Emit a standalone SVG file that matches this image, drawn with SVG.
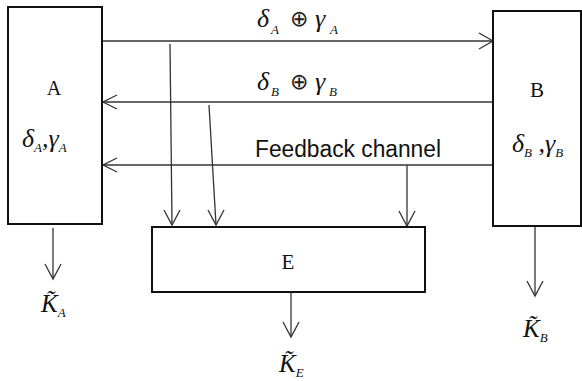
<svg xmlns="http://www.w3.org/2000/svg" width="582" height="381" viewBox="0 0 582 381">
  <style>
    .box { fill: #fff; stroke: #111; stroke-width: 2; }
    .wire { fill: none; stroke: #333; stroke-width: 1.3; }
    .head { fill: none; stroke: #333; stroke-width: 1.3; stroke-linejoin: miter; }
    .m { font-family: "Liberation Serif", "Times New Roman", serif; font-style: italic; fill: #111; }
    .r { font-family: "Liberation Serif", "Times New Roman", serif; fill: #111; }
    .op { font-family: "DejaVu Sans", sans-serif; fill: #222; }
    .s { font-family: "Liberation Sans", Arial, sans-serif; fill: #111; }
  </style>
  <rect width="582" height="381" fill="#fff"/>

  <!-- connectors -->
  <g id="connectors">
    <!-- A -> B -->
    <line class="wire" x1="102" y1="41" x2="493" y2="41"/>
    <polyline class="head" points="479,33 493,41 479,49"/>
    <!-- B -> A -->
    <line class="wire" x1="493" y1="102" x2="103" y2="102"/>
    <polyline class="head" points="117,95 103,102 117,109"/>
    <!-- feedback channel B -> A -->
    <line class="wire" x1="493" y1="165" x2="103" y2="165"/>
    <polyline class="head" points="117,158 103,165 117,172"/>
    <!-- taps into E -->
    <line class="wire" x1="170" y1="44" x2="172" y2="225"/>
    <polyline class="head" points="164,210 172,225 180,210"/>
    <line class="wire" x1="209" y1="105" x2="216" y2="225"/>
    <polyline class="head" points="208,210 216,225 224,210"/>
    <line class="wire" x1="407" y1="165" x2="407" y2="226"/>
    <polyline class="head" points="399,211 407,226 415,211"/>
    <!-- key outputs -->
    <line class="wire" x1="53" y1="228" x2="53" y2="279"/>
    <polyline class="head" points="45,264 53,279 61,264"/>
    <line class="wire" x1="291" y1="293" x2="291" y2="337"/>
    <polyline class="head" points="283,322 291,337 299,322"/>
    <line class="wire" x1="535" y1="227" x2="535" y2="296"/>
    <polyline class="head" points="527,281 535,296 543,281"/>
  </g>

  <!-- channel labels -->
  <g id="label-ab">
    <text class="m" x="257" y="27" font-size="26">δ</text>
    <text class="m" x="271" y="34" font-size="13">A</text>
    <text class="op" x="290" y="26" font-size="22">⊕</text>
    <text class="m" x="315" y="27" font-size="26">γ</text>
    <text class="m" x="330" y="34" font-size="13">A</text>
  </g>
  <g id="label-ba">
    <text class="m" x="257" y="90" font-size="26">δ</text>
    <text class="m" x="271" y="96" font-size="13">B</text>
    <text class="op" x="290" y="89" font-size="22">⊕</text>
    <text class="m" x="315" y="90" font-size="26">γ</text>
    <text class="m" x="329" y="96" font-size="13">B</text>
  </g>
  <text class="s" x="255" y="157" font-size="23" textLength="186" lengthAdjust="spacingAndGlyphs">Feedback channel</text>

  <!-- node A -->
  <g id="node-a">
    <rect class="box" x="8" y="7" width="94" height="217"/>
    <text class="r" x="54" y="95" font-size="20" text-anchor="middle">A</text>
    <text class="m" x="22" y="147" font-size="26">δ<tspan font-size="13" dy="5">A</tspan><tspan dy="-5">,γ</tspan><tspan font-size="13" dy="5">A</tspan></text>
  </g>

  <!-- node B -->
  <g id="node-b">
    <rect class="box" x="493" y="11" width="88" height="215"/>
    <text class="r" x="537" y="97" font-size="21" text-anchor="middle">B</text>
    <text class="m" x="512" y="152" font-size="26">δ<tspan font-size="13" dy="5">B</tspan><tspan dy="-5"> ,γ</tspan><tspan font-size="13" dy="5">B</tspan></text>
  </g>

  <!-- node E -->
  <g id="node-e">
    <rect class="box" x="152" y="227" width="273" height="65"/>
    <text class="r" x="288" y="269" font-size="21" text-anchor="middle">E</text>
  </g>

  <!-- recovered keys -->
  <g id="key-a">
    <text class="m" x="41" y="312" font-size="25">K̃<tspan font-size="13" dy="5">A</tspan></text>
  </g>
  <g id="key-e">
    <text class="m" x="279" y="372" font-size="25">K̃<tspan font-size="13" dy="5">E</tspan></text>
  </g>
  <g id="key-b">
    <text class="m" x="523" y="337" font-size="25">K̃<tspan font-size="13" dy="5">B</tspan></text>
  </g>
</svg>
